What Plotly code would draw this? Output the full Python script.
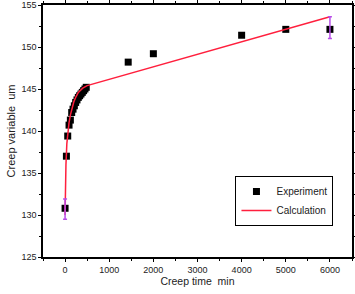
import plotly.graph_objects as go

# Experiment data
exp_time = [0, 30, 60, 90, 120, 150, 180, 210, 240, 270, 300, 330, 360, 390, 420, 450, 480,
            1430, 2000, 4000, 5000, 6000]
exp_value = [130.8, 137.0, 139.4, 140.7, 141.3, 142.2, 142.6, 143.0, 143.4, 143.7, 144.0,
             144.2, 144.4, 144.6, 144.8, 145.0, 145.2,
             148.2, 149.2, 151.4, 152.1, 152.1]

# Calculation curve
calc_time = [0, 10, 20, 40, 60, 90, 120, 160, 200, 250, 300, 400, 500, 6000]
calc_value = [130.0, 134.0, 136.0, 138.5, 139.8, 141.0, 141.9, 142.8, 143.5, 144.1, 144.6,
              145.1, 145.4, 153.6]

# Error bars
err_time = [0, 6000]
err_value = [130.7, 152.3]
err_size = [1.2, 1.3]

FONT = "Liberation Sans, Arial"

fig = go.Figure()
fig.add_trace(go.Scatter(x=exp_time, y=exp_value, mode="markers", name="Experiment",
                         marker=dict(symbol="square", size=7, color="black")))
fig.add_trace(go.Scatter(x=calc_time, y=calc_value, mode="lines", name="Calculation",
                         line=dict(color="#ff1f3d", width=1.5)))
fig.add_trace(go.Scatter(x=err_time, y=err_value, mode="markers", showlegend=False,
                         marker=dict(size=1, color="rgba(0,0,0,0)"),
                         error_y=dict(type="data", array=err_size, color="#b84de8",
                                      thickness=1.5, width=2)))

axis_common = dict(showline=True, linecolor="black", linewidth=1.5, mirror="ticks",
                   ticks="outside", ticklen=3, tickwidth=1, tickcolor="black",
                   showgrid=False, zeroline=False, automargin=False,
                   tickfont=dict(family=FONT, size=9, color="#222"))

fig.update_xaxes(range=[-500, 6500], tickvals=[0, 1000, 2000, 3000, 4000, 5000, 6000],
                 minor=dict(tickvals=[-500, 500, 1500, 2500, 3500, 4500, 5500, 6500],
                            ticks="outside", ticklen=2, tickcolor="black"),
                 title=dict(text="Creep time  min", standoff=4,
                            font=dict(family=FONT, size=10.5, color="#222")),
                 **axis_common)
fig.update_yaxes(range=[125, 155], tickvals=[125, 130, 135, 140, 145, 150, 155],
                 minor=dict(tickvals=[127.5, 132.5, 137.5, 142.5, 147.5, 152.5],
                            ticks="outside", ticklen=2, tickcolor="black"),
                 title=dict(text="Creep variable  um", standoff=4,
                            font=dict(family=FONT, size=11, color="#222")),
                 **axis_common)

fig.update_layout(
    width=355, height=294,
    margin=dict(l=43, r=3, t=5, b=37, autoexpand=False),
    paper_bgcolor="white", plot_bgcolor="white",
    legend=dict(x=0.94, y=0.123, xanchor="right", yanchor="bottom",
                bgcolor="white", bordercolor="black", borderwidth=1,
                font=dict(family=FONT, size=10, color="#222"),
                tracegroupgap=0, itemwidth=30),
)

fig.write_html("out.html", config={"displayModeBar": False},
               post_script="document.body.style.margin='0px';document.body.style.overflow='hidden';")
